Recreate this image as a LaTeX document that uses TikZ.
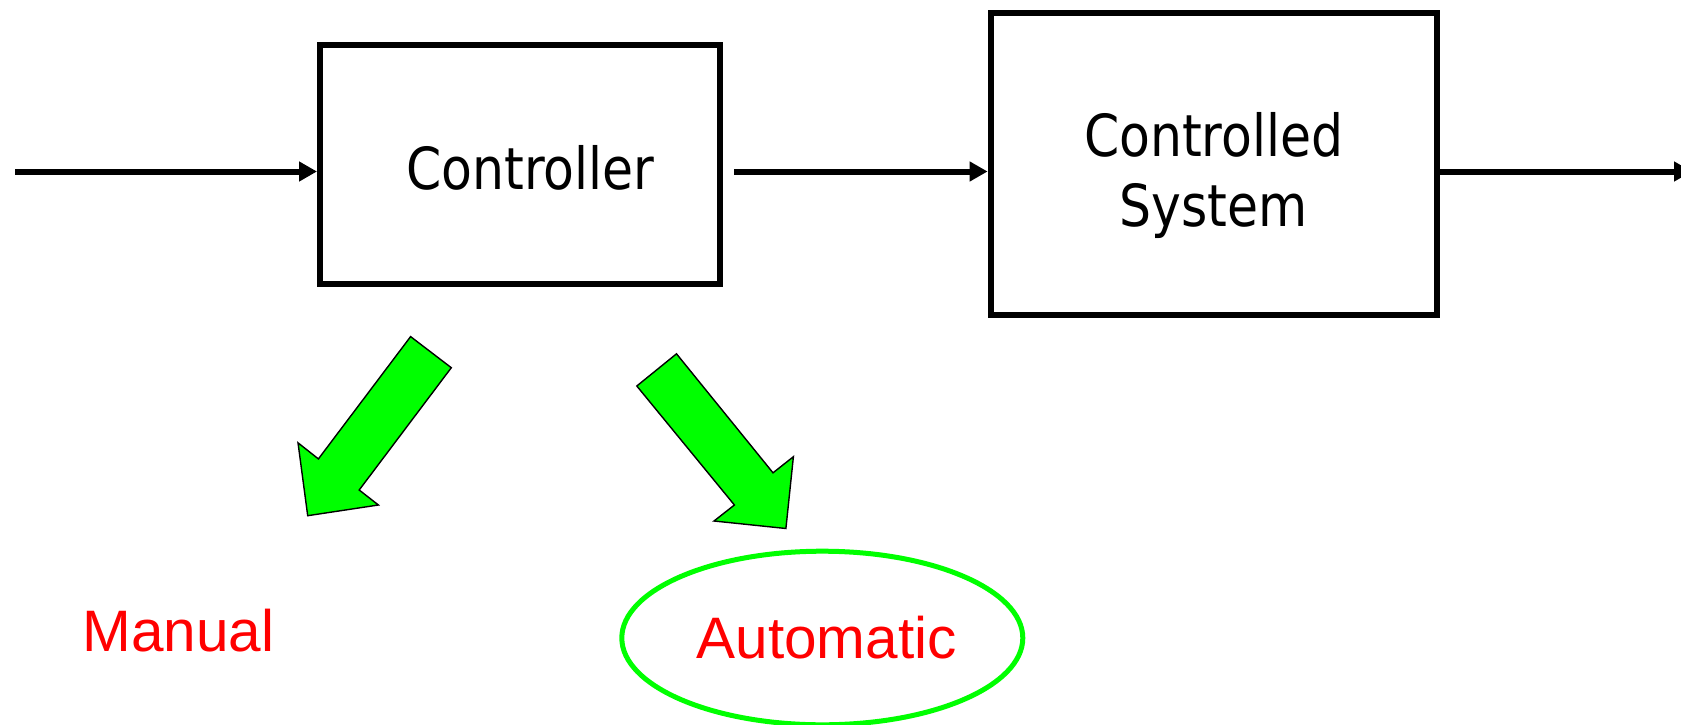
\documentclass[tikz,border=0pt]{standalone}
\usepackage{fontspec}
\usetikzlibrary{arrows.meta,shapes.geometric,calc}
\newfontfamily\boxfont[FakeStretch=0.87]{DejaVu Sans}
\newfontfamily\arialfont{Liberation Sans}
\definecolor{brightgreen}{RGB}{0,255,0}
\definecolor{brightred}{RGB}{255,0,0}
\begin{document}
\begin{tikzpicture}[x=1pt,y=-1pt,
  blockbox/.style={draw=black,line width=6pt,minimum width=#1,inner sep=0pt},
  flow/.style={draw=black,line width=6pt,-{Triangle[length=18pt,width=19pt]}},
  boxtext/.style={font=\boxfont\fontsize{58}{70}\selectfont,inner sep=0pt},
  redtext/.style={font=\arialfont\fontsize{58.5}{68}\selectfont,text=brightred,inner sep=0pt},
  bigarrow/.style={fill=brightgreen,draw=black,line width=1.4pt,line join=miter}]
\useasboundingbox (0,0) rectangle (1681,725);
% blocks
\node[blockbox=400pt,minimum height=239pt] (ctrl) at (520,164.6) {};
\node[boxtext,anchor=base] (ctrltxt) at (530.5,189.3) {Controller};
\node[blockbox=446pt,minimum height=302pt] (plant) at (1213.6,164) {};
\node[boxtext,align=center] (planttxt) at (1213.8,175) {Controlled\\System};
% signal lines
\coordinate (in) at (15,171.5);
\coordinate (out) at (1692,171.5);
\draw[flow] (in) -- (in -| ctrl.west);
\draw[flow,shorten <=11pt] (ctrl.east |- in) -- (plant.west |- in);
\draw[flow] (plant.east |- in) -- (out);
% green block arrows
\draw[bigarrow] (410.6,336.6) -- (451.3,367.7) -- (359.2,490) -- (378.4,505)
  -- (307.7,515.7) -- (298,442.8) -- (318.4,458.9) -- cycle;
\draw[bigarrow] (636.8,386) -- (676.5,353.8) -- (773,472.8) -- (793.4,456.7)
  -- (785.9,528.5) -- (714,521) -- (734.4,505) -- cycle;
% labels
\node[redtext,anchor=base] (manual) at (178.4,651.7) {Manual};
\node[ellipse,draw=brightgreen,line width=5pt,minimum width=401pt,minimum height=173.6pt,inner sep=0pt] (autoell) at (822.3,638) {};
\node[redtext,anchor=base] (auto) at (826.6,658) {Automatic};
\end{tikzpicture}
\end{document}
